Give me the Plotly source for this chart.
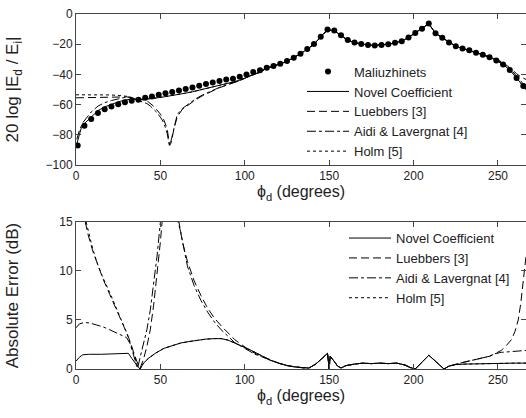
import plotly.graph_objects as go

# ---------------- data ----------------
# Top panel: Maliuzhinets reference (dots)
mal_x = list(range(1, 266, 4))
mal_y = [-87, -74, -69.5, -65.5, -63, -61.3, -59.8, -58.5, -57.4, -56.8,
         -55.5, -54.7, -53.5, -52.5, -51.7, -50.6, -49.6, -48.6, -47.5, -46.4,
         -45.3, -44.4, -43.4, -42.8, -41.6, -40, -38.4, -37.2, -35.6, -34.4,
         -32.9, -31.2, -28.9, -26.3, -23.2, -19.9, -15, -10.2, -11, -14.1,
         -17.2, -18.9, -19.8, -20.5, -20.8, -20.6, -20, -19.1, -18, -15.5,
         -12.5, -9.8, -6.3, -12.8, -15.8, -18.8, -21.4, -22.8, -24, -25.6,
         -27, -28.6, -30.8, -33.4, -37, -42.3, -47.7]

# part of the curve where all four formulas sit on the dots (113..245 deg)
common_x = [113, 117, 121, 125, 129, 133, 137, 141, 145, 149, 153, 157, 161,
            165, 169, 173, 177, 181, 185, 189, 193, 197, 201, 205, 209, 213,
            217, 221, 225, 229, 233, 237, 241, 245]
common_y = [-35.8, -34.6, -33.1, -31.3, -29.0, -26.4, -23.3, -20.0, -15.1,
            -10.4, -11.1, -14.2, -17.3, -19.0, -19.9, -20.5, -20.8, -20.6,
            -20.0, -19.1, -18.0, -15.5, -12.5, -9.8, -6.4, -12.8, -15.8,
            -18.8, -21.4, -22.8, -24.0, -25.6, -27.0, -28.6]

novel_top_x = [0.5, 3, 5, 9, 13, 17, 21, 25, 29, 33, 37, 41, 45, 49, 53, 57,
               61, 65, 69, 73, 77, 81, 85, 89, 93, 97, 101, 105, 109]
novel_top_y = [-86, -76, -72.5, -68, -64, -61.5, -59.8, -58.2, -57, -56.3,
               -56.7, -56.3, -56.1, -55.4, -54.7, -54.1, -53.2, -52.4, -51.5,
               -50.5, -49.5, -48.4, -47.5, -46.4, -45.5, -44, -42, -40.2, -38.6]
novel_end_x = [249, 253, 257, 261, 265, 267]
novel_end_y = [-30.8, -33.4, -37, -42.3, -47.7, -50.5]

lue_top_x = [0, 10, 20, 26, 30, 34, 38, 42, 46, 50, 52, 54, 55.5, 56.5, 58,
             60, 63, 67, 71, 75, 80, 85, 90, 95, 100, 105, 109]
lue_top_y = [-55.5, -55.3, -55.2, -55, -54.9, -55.4, -56.5, -57.5, -61, -66.3,
             -70, -76, -87, -85, -76, -68, -63.1, -59.6, -56.7, -54.1, -51.3,
             -48.8, -46.9, -45, -42.6, -40, -38.5]
lue_end_x = [249, 253, 257, 261, 264, 267]
lue_end_y = [-29.8, -32.3, -35.5, -39.5, -42, -43.5]

aidi_top_x = [0.5, 2, 4, 6, 9, 13, 17, 21, 25, 29, 32, 34, 36, 38, 40, 42,
              44, 46, 48, 50, 52, 54, 55.3, 56.3, 58, 60, 63, 67, 71, 75, 80,
              85, 90, 95, 100, 105, 109]
aidi_top_y = [-83, -77, -72, -69, -64.9, -61, -58.7, -57.3, -56.2, -55.2,
              -55.1, -55.7, -56.9, -57.8, -58.4, -59.3, -60.9, -63, -65.3,
              -68.3, -72, -79, -87, -84, -75, -66.5, -62.6, -59.1, -56.1,
              -53.6, -50.9, -48.6, -46.6, -44.9, -42.5, -39.9, -38.5]
aidi_end_x = [249, 253, 257, 261, 265, 267]
aidi_end_y = [-30.2, -32.6, -36, -41, -46.5, -49]

holm_top_x = [0, 10, 20, 26, 30, 33, 35, 37, 41, 45, 49, 53, 57, 61, 65, 69,
              73, 77, 81, 85, 89, 93, 97, 101, 105, 109]
holm_top_y = [-53.5, -53.5, -53.6, -54, -54.5, -55.4, -56.2, -56.7, -56.3,
              -56.1, -55.4, -54.7, -54.1, -53.2, -52.4, -51.5, -50.5, -49.5,
              -48.4, -47.5, -46.4, -45.5, -44, -42, -40.2, -38.6]

# Bottom panel: absolute error (dB)
novel_err_x = [0, 2, 4, 8, 15, 20, 25, 31, 33, 35, 37, 38, 40, 43, 47, 52,
               57, 62, 67, 72, 77, 82, 86, 90, 95, 100, 105, 110, 115, 120,
               125, 130, 135, 138, 142, 146, 149, 150, 150.6, 152, 155, 157,
               160, 165, 170, 175, 180, 185, 190, 195, 198, 201, 204, 207,
               209, 211, 213, 215, 218, 221, 225, 230, 240, 250, 260, 267]
novel_err_y = [0.8, 1.2, 1.45, 1.5, 1.5, 1.55, 1.6, 1.6, 1.1, 0.6, 0.15, 0.0,
               0.6, 1.1, 1.6, 2.1, 2.4, 2.65, 2.8, 2.95, 3.05, 3.1, 3.1, 2.95,
               2.6, 2.2, 1.8, 1.35, 0.9, 0.6, 0.35, 0.2, 0.1, 0.1, 0.5, 1.1,
               1.6, 0.0, 1.3, 1.0, 0.3, 0.1, 0.35, 0.5, 0.6, 0.55, 0.6, 0.55,
               0.6, 0.4, 0.15, 0.0, 0.5, 1.1, 1.4, 1.1, 0.8, 0.4, 0.0, 0.3,
               0.45, 0.5, 0.55, 0.55, 0.6, 0.6]

lue_err_x = [5.5, 7, 10, 13, 16, 20, 24, 28, 31, 34, 36, 38, 40, 42, 44, 46,
             48, 50, 51, 53, 56, 59, 61, 63, 66, 70, 74, 78, 82, 86, 90, 94,
             98, 102, 106, 110, 115, 120, 125, 130, 135, 138, 142, 146, 149,
             150, 150.6, 152, 155, 157, 160, 165, 170, 175, 180, 185, 190,
             195, 198, 201, 204, 207, 209, 211, 213, 215, 218, 221, 225, 230,
             235, 240, 245, 248, 252, 255, 258, 260, 262, 263.5, 264.5, 265.5,
             266.6]
lue_err_y = [15, 13.8, 12, 10.5, 9.2, 7.6, 6.0, 4.5, 3.3, 1.8, 0.8, 0.1, 1.0,
             2.3, 4.0, 6.5, 9.5, 13, 15, 20, 32, 22, 15, 13, 11, 9, 7.5, 6.2,
             5.2, 4.4, 3.7, 3.0, 2.5, 2.0, 1.6, 1.3, 0.9, 0.6, 0.35, 0.2, 0.1,
             0.1, 0.5, 1.1, 1.6, 0.0, 1.3, 1.0, 0.3, 0.1, 0.35, 0.5, 0.6, 0.55,
             0.6, 0.55, 0.6, 0.4, 0.15, 0.0, 0.5, 1.1, 1.4, 1.1, 0.8, 0.4, 0.0,
             0.3, 0.5, 0.7, 0.9, 1.1, 1.3, 1.55, 1.9, 2.4, 3.0, 3.8, 5.0, 6.7,
             8.5, 10.2, 11.5]

aidi_err_x = [0, 2, 5, 8, 12, 16, 20, 24, 28, 30, 32, 34, 35.5, 36.5, 38, 40,
              42, 44, 46, 48, 50, 52, 55, 58, 60.5, 62, 66, 70, 74, 78, 82, 86,
              90, 94, 98, 102, 106, 110, 115, 120, 125, 130, 135, 138, 142,
              146, 149, 150, 150.6, 152, 155, 157, 160, 165, 170, 175, 180,
              185, 190, 195, 198, 201, 204, 207, 209, 211, 213, 215, 218, 221,
              225, 230, 235, 240, 245, 248, 252, 256, 260, 264, 267]
aidi_err_y = [4.2, 4.6, 4.75, 4.7, 4.5, 4.3, 4.0, 3.7, 3.4, 3.2, 2.6, 1.5, 0.5,
              0.05, 1.2, 2.5, 4.0, 6.0, 8.5, 11.5, 15, 21, 33, 22, 15, 14,
              10.5, 8.5, 7, 5.8, 4.8, 4.0, 3.3, 2.7, 2.3, 1.9, 1.5, 1.25, 0.9,
              0.6, 0.35, 0.2, 0.1, 0.1, 0.5, 1.1, 1.6, 0.0, 1.3, 1.0, 0.3, 0.1,
              0.35, 0.5, 0.6, 0.55, 0.6, 0.55, 0.6, 0.4, 0.15, 0.0, 0.5, 1.1,
              1.4, 1.1, 0.8, 0.4, 0.0, 0.3, 0.5, 0.7, 0.9, 1.1, 1.3, 1.55, 1.7,
              1.75, 1.8, 1.85, 1.9]

holm_err_x = [6, 8, 10, 13, 16, 20, 24, 27, 30, 33, 35, 36.5, 38]
holm_err_y = [15, 13.5, 12.2, 10.6, 9.3, 7.8, 6.2, 5.0, 3.7, 2.2, 1.0, 0.3, 0.0]

x_ticks = [0, 50, 100, 150, 200, 250]
top_y_ticks = [0, -20, -40, -60, -80, -100]
bot_y_ticks = [0, 5, 10, 15]

# ---------------- figure ----------------
FONT = "Liberation Sans, Arial, sans-serif"
BLACK = "black"
TXT = "#222"
fig = go.Figure()

def top_line(xs, ys, name, dash):
    fig.add_trace(go.Scatter(x=xs, y=ys, mode="lines", name=name,
                             line=dict(color=BLACK, width=1, dash=dash),
                             xaxis="x", yaxis="y", legend="legend"))

def bot_line(xs, ys, name, dash):
    fig.add_trace(go.Scatter(x=xs, y=ys, mode="lines", name=name,
                             line=dict(color=BLACK, width=1, dash=dash),
                             xaxis="x2", yaxis="y2", legend="legend2"))

fig.add_trace(go.Scatter(x=mal_x, y=mal_y, mode="markers", name="Maliuzhinets",
                         marker=dict(color=BLACK, size=6),
                         xaxis="x", yaxis="y", legend="legend"))
top_line(novel_top_x + common_x + novel_end_x,
         novel_top_y + common_y + novel_end_y, "Novel Coefficient", "solid")
top_line(lue_top_x + common_x + lue_end_x,
         lue_top_y + common_y + lue_end_y, "Luebbers [3]", "8px,4px")
top_line(aidi_top_x + common_x + aidi_end_x,
         aidi_top_y + common_y + aidi_end_y, "Aidi & Lavergnat [4]", "dashdot")
top_line(holm_top_x + common_x + novel_end_x,
         holm_top_y + common_y + novel_end_y, "Holm [5]", "dot")

bot_line(novel_err_x, novel_err_y, "Novel Coefficient", "solid")
bot_line(lue_err_x, lue_err_y, "Luebbers [3]", "8px,4px")
bot_line(aidi_err_x, aidi_err_y, "Aidi & Lavergnat [4]", "dashdot")
holm_full_x = holm_err_x + [v for v in novel_err_x if v > 38]
holm_full_y = holm_err_y + [v for u, v in zip(novel_err_x, novel_err_y) if u > 38]
bot_line(holm_full_x, holm_full_y, "Holm [5]", "dot")

axis_common = dict(showline=True, linecolor="#444", linewidth=1, mirror="ticks",
                   ticks="inside", ticklen=5, tickcolor="#444", showgrid=False,
                   zeroline=False, tickfont=dict(family=FONT, size=12, color=TXT))

XMAX = 266.6
fig.update_layout(
    width=526, height=418,
    margin=dict(l=76, r=0, t=14, b=49),
    paper_bgcolor="white", plot_bgcolor="white",
    font=dict(family=FONT, color=TXT),
    showlegend=True,
    xaxis=dict(domain=[0, 1], range=[0, XMAX], tickvals=x_ticks, anchor="y",
               title=dict(text="ϕ<sub>d</sub> (degrees)", standoff=3,
                          font=dict(family=FONT, size=16, color=TXT)),
               **axis_common),
    yaxis=dict(domain=[0.5746, 1.0], range=[-100, 0], tickvals=top_y_ticks,
               anchor="x",
               title=dict(text="20 log |E<sub>d</sub> / E<sub>i</sub>|", standoff=22,
                          font=dict(family=FONT, size=17, color=TXT)),
               **axis_common),
    xaxis2=dict(domain=[0, 1], range=[0, XMAX], tickvals=x_ticks, anchor="y2",
                title=dict(text="ϕ<sub>d</sub> (degrees)", standoff=3,
                           font=dict(family=FONT, size=16, color=TXT)),
                **axis_common),
    yaxis2=dict(domain=[0.0, 0.4141], range=[0, 15], tickvals=bot_y_ticks,
                anchor="x2",
                title=dict(text="Absolute Error (dB)", standoff=36,
                           font=dict(family=FONT, size=17, color=TXT)),
                **axis_common),
    legend=dict(x=(302 - 76) / 450, y=0.88, xanchor="left", yanchor="top",
                bgcolor="rgba(0,0,0,0)", borderwidth=0, itemwidth=42,
                tracegroupgap=0,
                font=dict(family=FONT, size=13, color=TXT)),
    legend2=dict(x=(344 - 76) / 450, y=0.411, xanchor="left", yanchor="top",
                 bgcolor="rgba(0,0,0,0)", borderwidth=0, itemwidth=42,
                 tracegroupgap=0,
                 font=dict(family=FONT, size=13, color=TXT)),
)

fig.write_html("out.html")
